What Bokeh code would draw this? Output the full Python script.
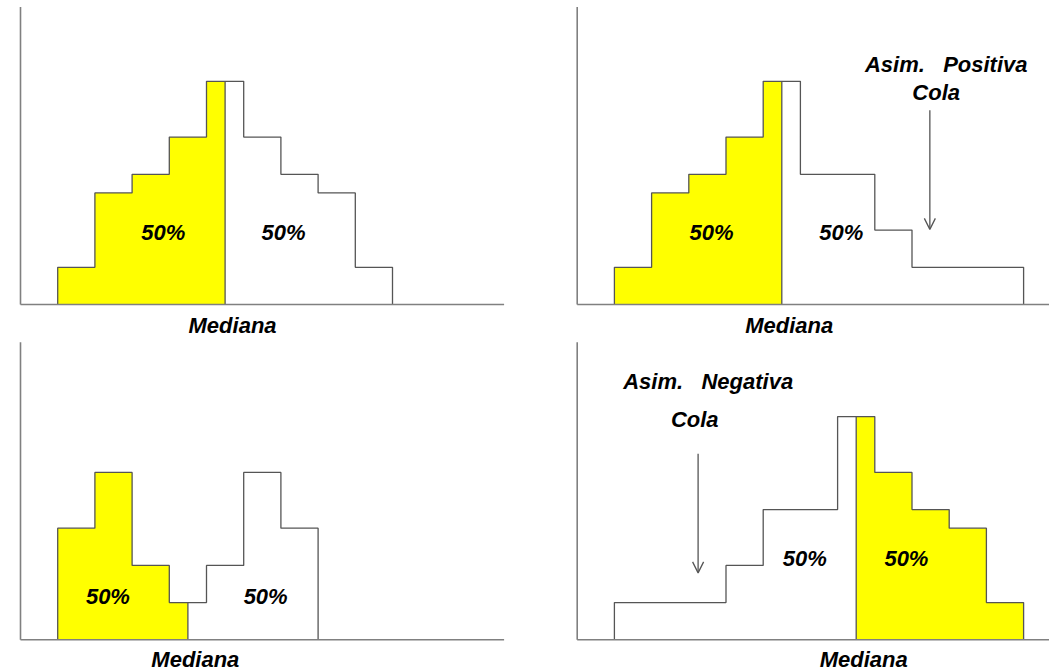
from bokeh.plotting import figure
from bokeh.layouts import column, row
from bokeh.models import Arrow, OpenHead, Range1d
from bokeh.core.properties import value
from bokeh.embed import file_html
from bokeh.resources import INLINE

# ---------------- data ----------------
first_edge = 1                      # left edge of the first bin (bins are 1 unit wide)
tl_counts = [1, 3, 3.5, 4.5, 6, 4.5, 3.5, 3, 1]            # symmetric
tl_median = 5.5
tr_counts = [1, 3, 3.5, 4.5, 6, 3.5, 3.5, 2, 1, 1, 1]      # positive skew
tr_median = 5.5
bl_counts = [3, 4.5, 2, 1, 2, 4.5, 3]                      # bimodal
bl_median = 4.5
br_counts = [1, 1, 1, 2, 3.5, 3.5, 6, 4.5, 3.5, 3, 1]      # negative skew
br_median = 7.5

pct_label = "50%"
median_label = "Mediana"
NB = "\u00a0"
pos_labels = ["Asim." + NB * 3 + "Positiva", "Cola"]
neg_labels = ["Asim." + NB * 3 + "Negativa", "Cola"]

# ---------------- style ----------------
YELLOW = "#FFFF00"
EDGE = "#555555"
AXIS = "#808080"
FONT = value("Liberation Sans")
UNIT = 37.2  # px per data unit

AX_X_END = 13
AX_Y_END = 8


def make_panel(counts, median, yellow_side, x_start, width, y_end, height):
    p = figure(width=width, height=height, output_backend="svg",
               toolbar_location=None, x_axis_type=None, y_axis_type=None,
               x_range=Range1d(x_start, x_start + width / UNIT),
               y_range=Range1d(y_end - height / UNIT, y_end),
               min_border=0, outline_line_color=None,
               background_fill_color="white", border_fill_color="white")
    # yellow half as one polygon
    px, py = [], []
    for i, c in enumerate(counts):
        l = first_edge + i
        r = l + 1
        if yellow_side == "left":
            a, b = l, min(r, median)
        else:
            a, b = max(l, median), r
        if a < b:
            px += [a, b]
            py += [c, c]
    px = [px[0]] + px + [px[-1]]
    py = [0] + py + [0]
    p.patch(px, py, fill_color=YELLOW, line_color=None)
    # step outline
    xs, ys = [first_edge], [0]
    for i, c in enumerate(counts):
        xs += [first_edge + i, first_edge + i + 1]
        ys += [c, c]
    xs.append(first_edge + len(counts)); ys.append(0)
    p.line(xs, ys, line_color=EDGE, line_width=1.3)
    # median line
    h = counts[int(median - first_edge)]
    p.segment(x0=[median], y0=[0], x1=[median], y1=[h], line_color=EDGE, line_width=1.3)
    # axes lines
    p.segment(x0=[0, 0], y0=[0, 0], x1=[0, AX_X_END], y1=[AX_Y_END, 0],
              line_color=AXIS, line_width=1.6)
    return p


def add_text(p, xs, ys, texts):
    p.text(x=xs, y=ys, text=texts, text_font=FONT, text_font_style="bold italic",
           text_font_size="22px", text_align="center", text_baseline="middle",
           text_color="black")


TOP_H, BOT_H = 338, 333
LEFT_W, RIGHT_W = 528, 521
LX0 = -20 / UNIT
RX0 = -48.7 / UNIT
TOP_YEND = 304 / UNIT
BOT_YEND = 301.3 / UNIT

# top-left: symmetric
p1 = make_panel(tl_counts, tl_median, "left", LX0, LEFT_W, TOP_YEND, TOP_H)
add_text(p1, [3.84, 7.07], [1.94, 1.94], [pct_label, pct_label])
add_text(p1, [tl_median + 0.2], [-0.565], [median_label])

# top-right: positive skew
p2 = make_panel(tr_counts, tr_median, "left", RX0, RIGHT_W, TOP_YEND, TOP_H)
add_text(p2, [3.61, 7.10], [1.94, 1.94], [pct_label, pct_label])
add_text(p2, [tr_median + 0.2], [-0.565], [median_label])
add_text(p2, [9.92, 9.65], [6.45, 5.70], pos_labels)
p2.add_layout(Arrow(end=OpenHead(size=11, line_color=EDGE, line_width=1.3),
                    x_start=9.48, y_start=5.22, x_end=9.48, y_end=2.02,
                    line_color=EDGE, line_width=1.3))

# bottom-left: bimodal
p3 = make_panel(bl_counts, bl_median, "left", LX0, LEFT_W, BOT_YEND, BOT_H)
add_text(p3, [2.35, 6.59], [1.17, 1.17], [pct_label, pct_label])
add_text(p3, [bl_median + 0.2], [-0.54], [median_label])

# bottom-right: negative skew
p4 = make_panel(br_counts, br_median, "right", RX0, RIGHT_W, BOT_YEND, BOT_H)
add_text(p4, [6.12, 8.85], [2.18, 2.18], [pct_label, pct_label])
add_text(p4, [br_median + 0.2], [-0.54], [median_label])
add_text(p4, [3.52, 3.16], [6.94, 5.93], neg_labels)
p4.add_layout(Arrow(end=OpenHead(size=11, line_color=EDGE, line_width=1.3),
                    x_start=3.25, y_start=5.0, x_end=3.25, y_end=1.8,
                    line_color=EDGE, line_width=1.3))

layout = column(row(p1, p2), row(p3, p4))
open("out.html", "w").write(file_html(layout, INLINE))
